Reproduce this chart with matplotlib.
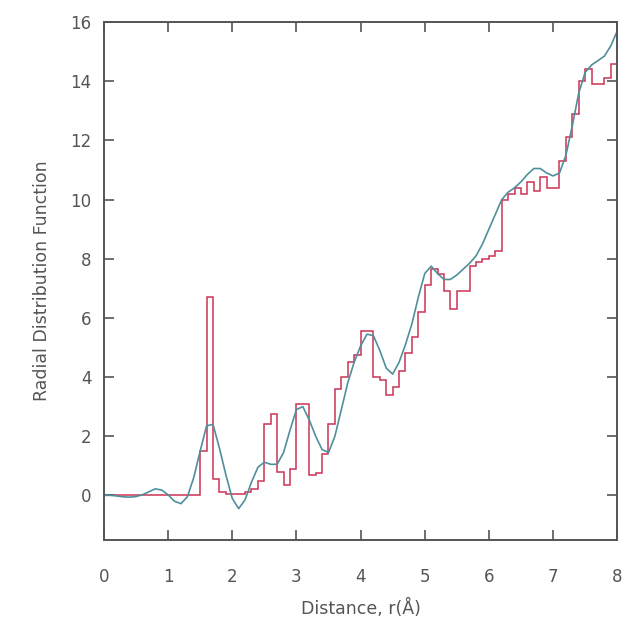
import numpy as np
import matplotlib
matplotlib.use("Agg")
import matplotlib.pyplot as plt

# Histogram (bin left edges, width 0.1 Å) and values
hist_edges_start = 0.0
hist_bin_width = 0.1
hist_values = [
    0, 0, 0, 0, 0, 0, 0, 0, 0, 0,            # 0.0-0.9
    0, 0, 0, 0, 0, 1.5, 6.7, 0.55, 0.1, 0.05,  # 1.0-1.9
    0.05, 0.05, 0.1, 0.2, 0.5, 2.4, 2.75, 0.8, 0.35, 0.9,  # 2.0-2.9
    3.1, 3.1, 0.7, 0.75, 1.4, 2.4, 3.6, 4.0, 4.5, 4.75,    # 3.0-3.9
    5.55, 5.55, 4.0, 3.9, 3.4, 3.65, 4.2, 4.8, 5.35, 6.2,  # 4.0-4.9
    7.1, 7.65, 7.5, 6.9, 6.3, 6.9, 6.9, 7.75, 7.9, 8.0,    # 5.0-5.9
    8.1, 8.25, 10.0, 10.2, 10.4, 10.2, 10.6, 10.3, 10.75, 10.4,  # 6.0-6.9
    10.4, 11.3, 12.1, 12.9, 14.0, 14.4, 13.9, 13.9, 14.1, 14.6,  # 7.0-7.9
]

# Smooth curve
curve_r = [round(0.1 * i, 1) for i in range(81)]
curve_g = [
    0.0, 0.0, -0.02, -0.05, -0.06, -0.04, 0.02, 0.12, 0.22, 0.18,
    0.02, -0.2, -0.28, -0.05, 0.6, 1.5, 2.35, 2.4, 1.6, 0.7,
    -0.1, -0.45, -0.15, 0.45, 0.95, 1.12, 1.05, 1.05, 1.45, 2.2,
    2.9, 3.0, 2.55, 2.0, 1.55, 1.45, 2.0, 2.9, 3.8, 4.5,
    5.05, 5.45, 5.4, 4.9, 4.3, 4.1, 4.5, 5.1, 5.8, 6.7,
    7.5, 7.75, 7.5, 7.3, 7.3, 7.45, 7.65, 7.85, 8.1, 8.5,
    9.0, 9.5, 10.0, 10.25, 10.4, 10.6, 10.85, 11.05, 11.05, 10.9,
    10.8, 10.9, 11.5, 12.5, 13.6, 14.3, 14.55, 14.7, 14.85, 15.2,
    15.7,
]

x_ticks = [0, 1, 2, 3, 4, 5, 6, 7, 8]
y_ticks = [0, 2, 4, 6, 8, 10, 12, 14, 16]

edges = hist_edges_start + hist_bin_width * np.arange(len(hist_values) + 1)

fig = plt.figure(figsize=(6.26, 6.32), dpi=100)
ax = fig.add_axes([0.166, 0.146, 0.82, 0.819])

gray = "#555555"
ax.stairs(hist_values, edges, color="#cc3355", linewidth=1.1, baseline=None)
ax.plot(curve_r, curve_g, color="#4f8f9c", linewidth=1.2)

ax.set_xlim(0, 8)
ax.set_ylim(-1.5, 16)
ax.set_xticks(x_ticks)
ax.set_yticks(y_ticks)
ax.tick_params(direction="in", length=7, width=1.2, colors=gray,
               top=True, right=True, labelsize=12)
ax.tick_params(axis="x", pad=20)
ax.tick_params(axis="y", pad=9)
for s in ax.spines.values():
    s.set_color(gray)
    s.set_linewidth(1.4)

ax.set_xlabel("Distance, r(Å)", fontsize=12.5, color=gray, labelpad=10)
ax.set_ylabel("Radial Distribution Function", fontsize=12.5, color=gray, labelpad=14)

fig.savefig("out.png", dpi=100)
